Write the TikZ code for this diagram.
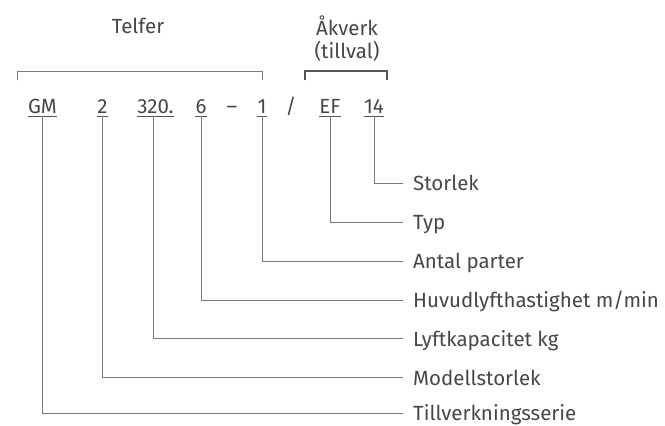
\documentclass[tikz,border=0pt]{standalone}
\usepackage{fontspec}
\setmainfont{Fira Sans}
\definecolor{txt}{HTML}{474747}
\definecolor{ln}{HTML}{7A7A7A}
\definecolor{lnd}{HTML}{555555}
\begin{document}
\begin{tikzpicture}[x=1pt,y=-1pt,
  every node/.style={inner sep=0pt,text=txt,font=\fontsize{20.5}{23}\selectfont},
  code/.style={anchor=base},
  lab/.style={anchor=base west},
  lead/.style={draw=ln,line width=1pt},
  ul/.style={draw=lnd,line width=1pt},
  brk/.style={draw=ln,line width=1pt},
  brkd/.style={draw=lnd,line width=1.2pt}]
\useasboundingbox (0,0) rectangle (665,426);
% headings
\node[code] (telfer) at (138,33) {Telfer};
\node[code] (akv) at (347,35) {Åkverk};
\node[code] (till) at (347,58) {(tillval)};
\draw[brk] (17,80) -- (17,71) -- (262,71) -- (262,80);
\draw[brkd] (305,80) -- (305,71) -- (387,71) -- (387,80);
% code
\node[code] (gm) at (42.5,113) {GM};
\node[code] (two) at (102.5,113) {2};
\node[code] (k320) at (155.5,113) {320.};
\node[code] (six) at (201,113) {6};
\node[code] (dash) at (232,113) {–};
\node[code] (one) at (262,113) {1};
\node[code] (slash) at (291,113) {/};
\node[code] (ef) at (330,113) {EF};
\node[code] (ft) at (374,113) {14};
\foreach \n in {gm,two,k320,six,one,ef,ft}
  \draw[ul] ([yshift=-3pt]\n.base west) -- ([yshift=-3pt]\n.base east);
% labels
\def\ch{7.5}
\node[lab] (l1) at (413,183+\ch) {Storlek};
\node[lab] (l2) at (413,222+\ch) {Typ};
\node[lab] (l3) at (413,261+\ch) {Antal parter};
\node[lab] (l4) at (413,300+\ch) {Huvudlyfthastighet m/min};
\node[lab] (l5) at (413,338.5+\ch) {Lyftkapacitet kg};
\node[lab] (l6) at (413,377.5+\ch) {Modellstorlek};
\node[lab] (l7) at (413,413+\ch) {Tillverkningsserie};
% leaders
\draw[lead] ([yshift=-3pt]ft.base)   |- ([xshift=-10pt,yshift=\ch pt]l1.base west);
\draw[lead] ([yshift=-3pt]ef.base)   |- ([xshift=-10pt,yshift=\ch pt]l2.base west);
\draw[lead] ([yshift=-3pt]one.base)  |- ([xshift=-10pt,yshift=\ch pt]l3.base west);
\draw[lead] ([yshift=-3pt]six.base)  |- ([xshift=-10pt,yshift=\ch pt]l4.base west);
\draw[lead] ([yshift=-3pt,xshift=-2pt]k320.base) |- ([xshift=-10pt,yshift=\ch pt]l5.base west);
\draw[lead] ([yshift=-3pt]two.base)  |- ([xshift=-10pt,yshift=\ch pt]l6.base west);
\draw[lead] ([yshift=-3pt]gm.base)   |- ([xshift=-10pt,yshift=\ch pt]l7.base west);
\end{tikzpicture}
\end{document}
